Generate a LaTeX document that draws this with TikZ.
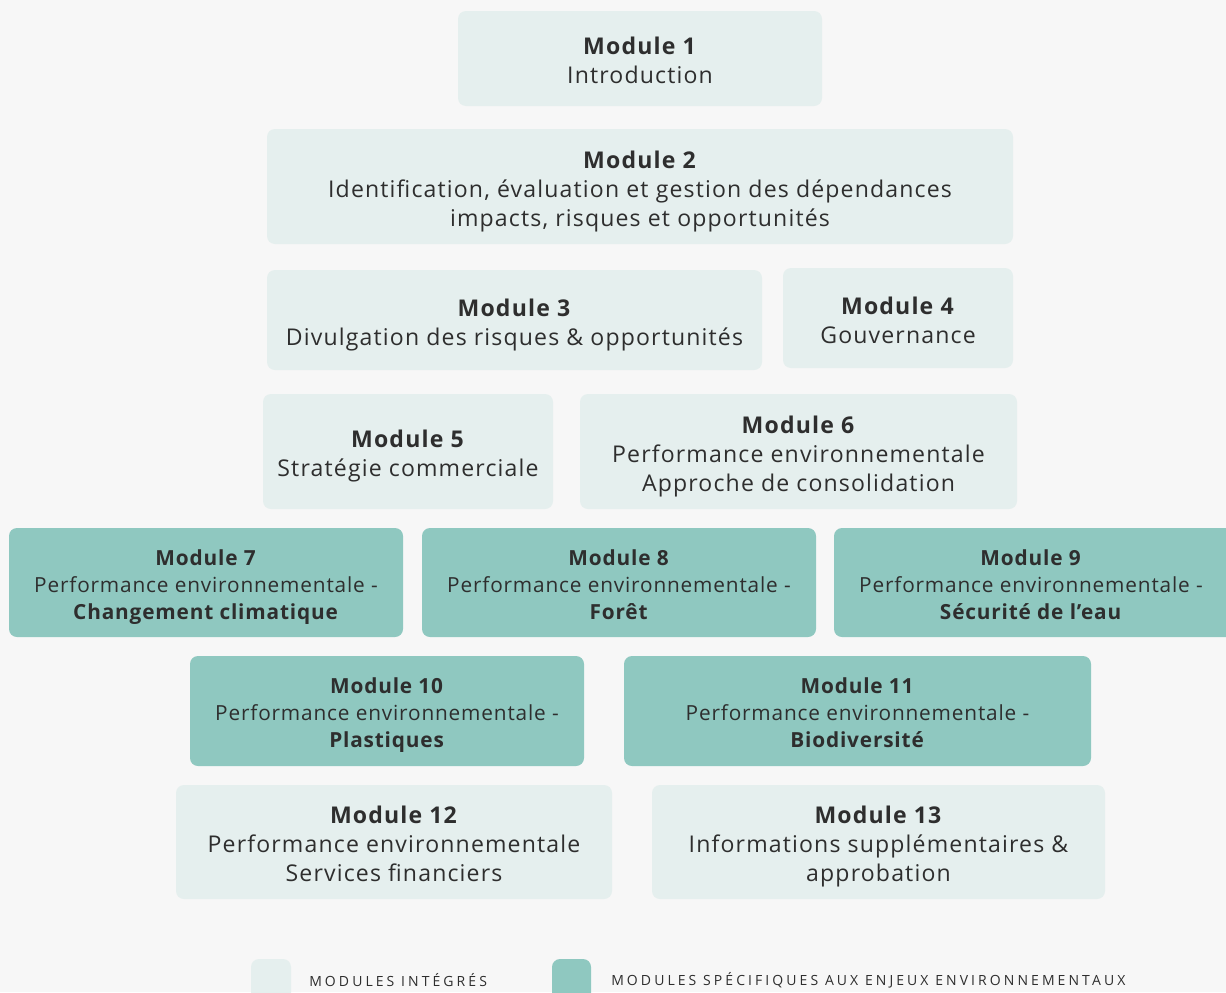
\documentclass[tikz,border=0pt]{standalone}
\usepackage{fontspec}
\setmainfont{Open Sans}
\usetikzlibrary{fit}
\definecolor{bg}{HTML}{F7F7F7}
\definecolor{lightc}{HTML}{E5EFEE}
\definecolor{darkc}{HTML}{8FC8C0}
\definecolor{txt}{HTML}{2E2E2E}
\newcommand{\dg}{\vphantom{g}}
\tikzset{
  x=0.75pt, y=-0.75pt,
  modbox/.style={rounded corners=6pt, inner sep=0pt},
  lightbox/.style={modbox, fill=lightc},
  darkbox/.style={modbox, fill=darkc},
  lighttxt/.style={align=center, text=txt, inner sep=0pt, yshift=-3.5pt, font=\fontsize{17.3}{21.75}\selectfont\addfontfeatures{LetterSpace=5}},
  darktxt/.style={align=center, text=txt, inner sep=0pt, yshift=-3.25pt, font=\fontsize{15.6}{20.25}\selectfont\addfontfeatures{LetterSpace=4}},
  legendtxt/.style={anchor=west, text=txt, inner sep=0pt, font=\fontsize{10.5}{12}\selectfont\addfontfeatures{LetterSpace=22}},
}
\begin{document}
\begin{tikzpicture}
\clip (0,0) rectangle (1226,992);
\fill[bg] (0,0) rectangle (1226,992);
\node[lightbox, fit={(458,11)(822,106)}] (m1) {};
\node[lighttxt] (t1) at (m1.center) {\textbf{Module 1}\\Introduction\dg};
\node[lightbox, fit={(267,129)(1013,244)}] (m2) {};
\node[lighttxt] (t2) at (m2.center) {\textbf{Module 2}\\Identification, évaluation et gestion des dépendances\\impacts, risques et opportunités\dg};
\node[lightbox, fit={(267,270)(762,370)}] (m3) {};
\node[lighttxt] (t3) at (m3.center) {\textbf{Module 3}\\Divulgation des risques \& opportunités\dg};
\node[lightbox, fit={(783,268)(1013,368)}] (m4) {};
\node[lighttxt] (t4) at (m4.center) {\textbf{Module 4}\\Gouvernance\dg};
\node[lightbox, fit={(263,394)(553,509)}] (m5) {};
\node[lighttxt] (t5) at (m5.center) {\textbf{Module 5}\\Stratégie commerciale\dg};
\node[lightbox, fit={(580,394)(1017,509)}] (m6) {};
\node[lighttxt] (t6) at (m6.center) {\textbf{Module 6}\\Performance environnementale\\Approche de consolidation\dg};
\node[darkbox, fit={(9,528)(403,637)}] (m7) {};
\node[darktxt] (t7) at (m7.center) {\textbf{Module 7}\\Performance environnementale -\\\textbf{Changement climatique}\dg};
\node[darkbox, fit={(422,528)(816,637)}] (m8) {};
\node[darktxt] (t8) at (m8.center) {\textbf{Module 8}\\Performance environnementale -\\\textbf{Forêt}\dg};
\node[darkbox, fit={(834,528)(1234,637)}] (m9) {};
\node[darktxt] (t9) at (1031,582.5) {\textbf{Module 9}\\Performance environnementale -\\\textbf{Sécurité de l’eau}\dg};
\node[darkbox, fit={(190,656)(584,766)}] (m10) {};
\node[darktxt] (t10) at (m10.center) {\textbf{Module 10}\\Performance environnementale -\\\textbf{Plastiques}\dg};
\node[darkbox, fit={(624,656)(1091,766)}] (m11) {};
\node[darktxt] (t11) at (m11.center) {\textbf{Module 11}\\Performance environnementale -\\\textbf{Biodiversité}\dg};
\node[lightbox, fit={(176,785)(612,899)}] (m12) {};
\node[lighttxt] (t12) at (m12.center) {\textbf{Module 12}\\Performance environnementale\\Services financiers\dg};
\node[lightbox, fit={(652,785)(1105,899)}] (m13) {};
\node[lighttxt] (t13) at (m13.center) {\textbf{Module 13}\\Informations supplémentaires \&\\approbation\dg};
% legend
\node[modbox, fill=lightc, fit={(251,959)(291,1005)}] (k1) {};
\node[legendtxt] (l1) at (309,980) {MODULES INTÉGRÉS};
\node[modbox, fill=darkc, fit={(552,959)(591,1005)}] (k2) {};
\node[legendtxt] (l2) at (611,980) {MODULES SPÉCIFIQUES AUX ENJEUX ENVIRONNEMENTAUX};
\end{tikzpicture}
\end{document}
